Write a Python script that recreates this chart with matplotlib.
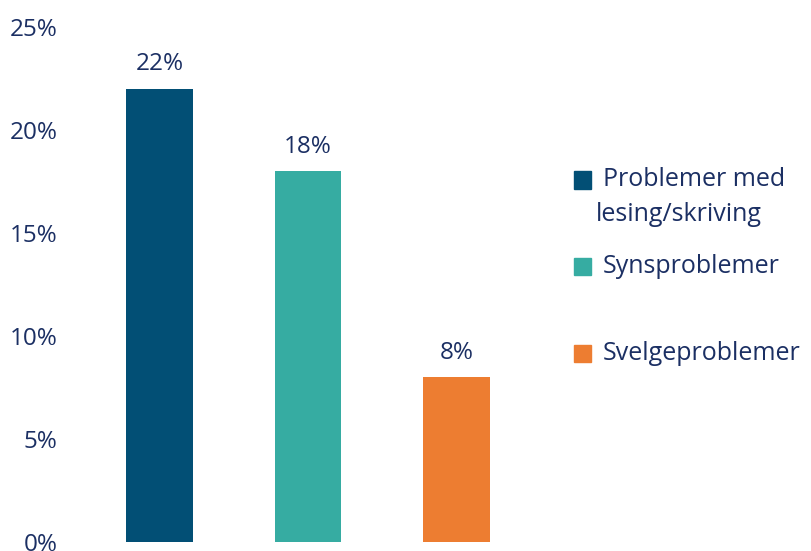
import matplotlib.pyplot as plt
from matplotlib.patches import Rectangle
from matplotlib.ticker import FuncFormatter

plt.rcParams['font.family'] = ['Open Sans', 'DejaVu Sans']

# Share of respondents per problem type (%)
categories = ['Problemer med\nlesing/skriving', 'Synsproblemer', 'Svelgeproblemer']
values = [22, 18, 8]
colors = ['#024F75', '#36ACA2', '#ED7D31']
text_color = '#1B2F63'
fs = 17.5

fig = plt.figure(figsize=(8.11, 5.51), dpi=100)
ax = fig.add_axes([85.5 / 811, 9 / 551, 445 / 811, 515 / 551])

x = list(range(len(values)))
bars = ax.bar(x, values, width=0.45, color=colors)
for b, v in zip(bars, values):
    ax.annotate(f'{v}%', (b.get_x() + b.get_width() / 2, v),
                xytext=(0, 9), textcoords='offset points',
                ha='center', va='bottom', fontsize=fs, color=text_color)

ax.set_xlim(-0.5, 2.5)
ax.set_ylim(0, 25)
ax.set_yticks(range(0, 26, 5))
ax.yaxis.set_major_formatter(FuncFormatter(lambda v, _: f'{v:.0f}%'))
ax.tick_params(axis='y', length=0, pad=20, labelsize=fs, labelcolor=text_color)
ax.set_xticks([])
for s in ax.spines.values():
    s.set_visible(False)

# legend entries placed by hand (uneven spacing)
legend_y = [180, 266, 353]
for lbl, c, yp in zip(categories, colors, legend_y):
    fy = 1 - yp / 551
    fig.patches.append(Rectangle((574 / 811, fy - 8.5 / 551), 17 / 811, 17 / 551,
                                 transform=fig.transFigure, color=c))
    lines = lbl.split('\n')
    fig.text(603 / 811, fy, lines[0], fontsize=18, color=text_color,
             va='center', ha='left')
    if len(lines) > 1:
        fig.text(596 / 811, fy - 35 / 551, lines[1], fontsize=18,
                 color=text_color, va='center', ha='left')

fig.savefig('out.png', dpi=100)
